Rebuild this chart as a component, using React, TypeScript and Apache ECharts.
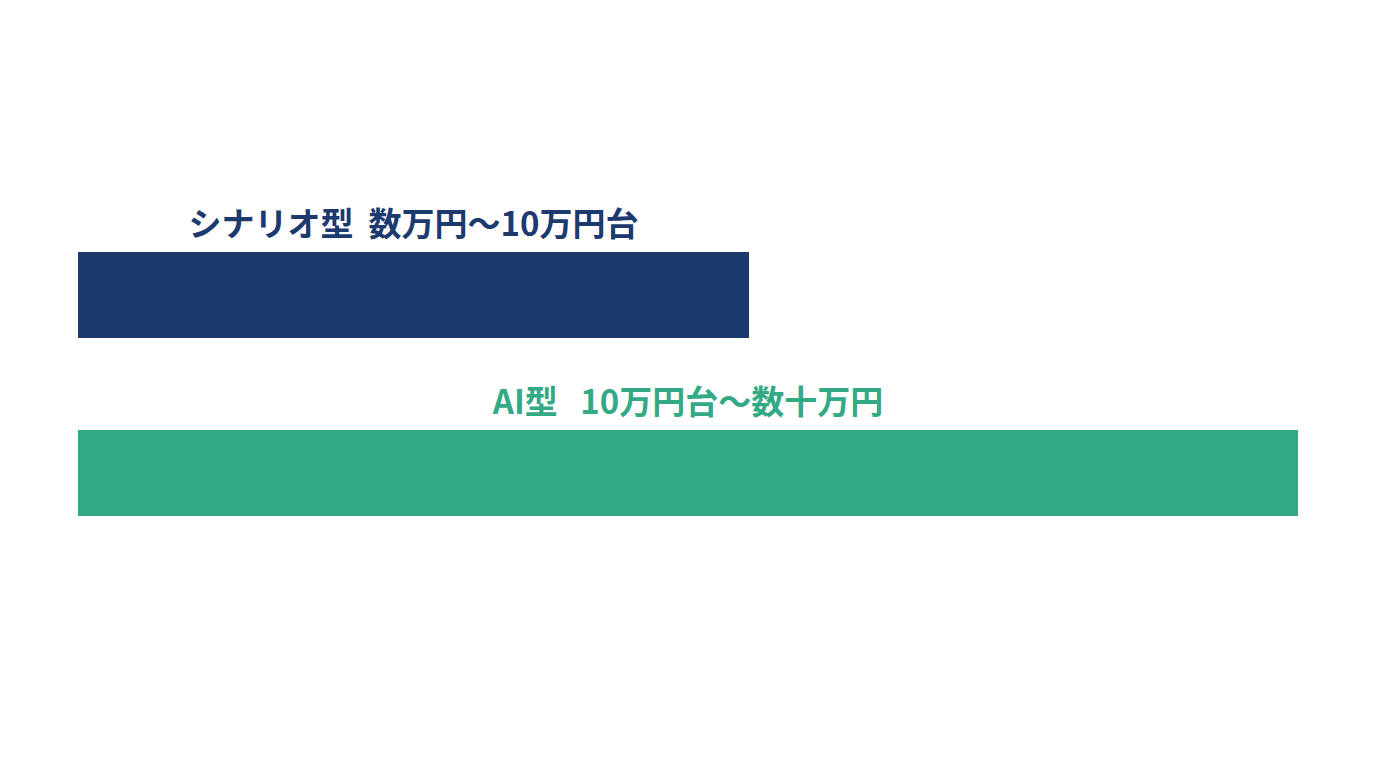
import React, { useEffect, useRef } from 'react';
import * as echarts from 'echarts';

// price ranges, drawn as relative bar lengths
const categories = ['シナリオ型', 'AI型'];
const priceLabels = ['シナリオ型  数万円〜10万円台', 'AI型   10万円台〜数十万円'];
const values = [55, 100];

const palette = ['#1c3a6e', '#34a986'];

const App: React.FC = () => {
  const chartRef = useRef<HTMLDivElement>(null);

  useEffect(() => {
    if (!chartRef.current) return;
    const chart = echarts.init(chartRef.current, undefined, { renderer: 'svg' });

    const option: echarts.EChartsOption = {
      animation: false,
      backgroundColor: '#ffffff',
      grid: {
        left: 78,
        right: 78,
        top: 206,
        height: 356,
      },
      xAxis: {
        type: 'value',
        min: 0,
        max: 100,
        show: false,
      },
      yAxis: {
        type: 'category',
        data: categories,
        inverse: true,
        show: false,
      },
      series: [
        {
          type: 'bar',
          barWidth: 86,
          data: values.map((v, i) => ({
            value: v,
            itemStyle: { color: palette[i] },
            label: { color: palette[i] },
          })),
          label: {
            show: true,
            position: 'top',
            distance: 14,
            fontSize: 33,
            fontWeight: 'bold',
            fontFamily: '"Noto Sans CJK JP", "Noto Sans", sans-serif',
            formatter: (p: any) => priceLabels[p.dataIndex],
          },
        },
      ],
    };

    chart.setOption(option);
    return () => {
      chart.dispose();
    };
  }, []);

  return (
    <div
      ref={chartRef}
      style={{ position: 'absolute', left: 0, top: 0, width: 1376, height: 768 }}
    />
  );
};

export default App;
